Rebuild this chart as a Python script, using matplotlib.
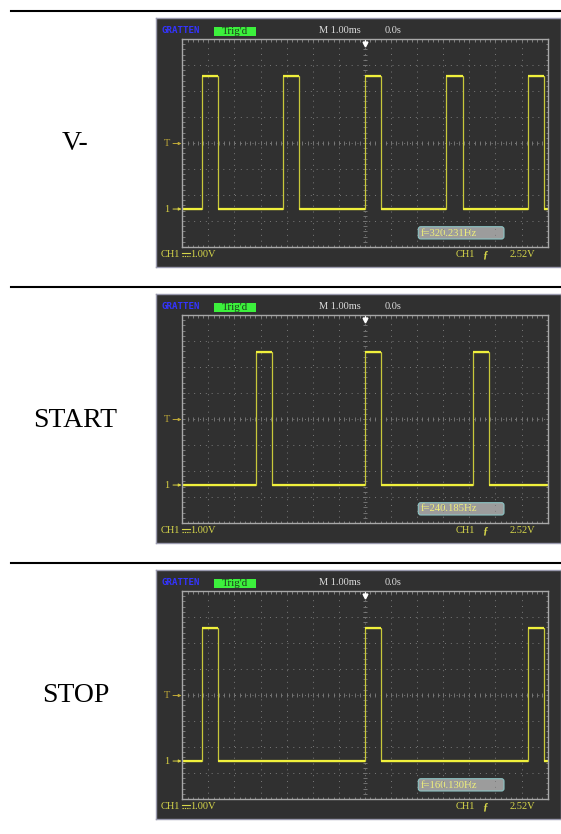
import numpy as np
import matplotlib
matplotlib.use("Agg")
import matplotlib.pyplot as plt
from matplotlib.patches import Rectangle, FancyBboxPatch
from matplotlib.lines import Line2D

# ---------------- data ----------------
row_labels = ["V-", "START", "STOP"]
freq_labels = ["f=320.231Hz", "f=240.185Hz", "f=160.130Hz"]

# rising / falling edge times in ms (trigger at 0 ms)
vminus_rise = [-6.26, -3.14, 0.0, 3.12, 6.24]
vminus_fall = [-5.63, -2.51, 0.63, 3.75, 6.87]
start_rise = [-4.17, 0.0, 4.15]
start_fall = [-3.56, 0.62, 4.77]
stop_rise = [-6.25, 0.0, 6.24]
stop_fall = [-5.65, 0.62, 6.86]

low_volts = 0.0
high_volts = 5.1
volts_per_div = 1.00
ms_per_div = 1.00
trig_volts = 2.52
ground_div = -2.54

timebase_label = "M 1.00ms"
delay_label = "0.0s"
ch_name = "CH1"
ch_scale_label = "1.00V"
trig_src = "CH1"
trig_level_label = "2.52V"

# ---------------- layout ----------------
W, H = 561, 834
fig = plt.figure(figsize=(W / 100, H / 100), dpi=100)
fig.patch.set_facecolor("white")


def px_rect(x0, y0, w, h):
    return [x0 / W, 1 - (y0 + h) / H, w / W, h / H]


row_tops = [18, 294, 570]
sep_ys = [11, 287, 563]
shot_x0, shot_w, shot_h = 156, 405, 249
grid_rx0, grid_ry0, grid_w, grid_h = 26.3, 21, 365.4, 208
serif = ["Liberation Serif", "DejaVu Serif"]
yellow_txt = "#d6d64a"

rises = [vminus_rise, start_rise, stop_rise]
falls = [vminus_fall, start_fall, stop_fall]

for sy in sep_ys:
    fig.add_artist(Line2D([11 / W, 1.0], [1 - sy / H] * 2, color="black", lw=1.5))

for i in range(3):
    top = row_tops[i]
    # row label
    fig.text(75.5 / W, 1 - (top + 132.5) / H, row_labels[i], ha="center",
             va="baseline", family=serif, fontsize=20, color="black")

    # screenshot background
    ax_s = fig.add_axes(px_rect(shot_x0, top, shot_w, shot_h))
    ax_s.set_xlim(0, shot_w)
    ax_s.set_ylim(shot_h, 0)
    ax_s.set_facecolor("#303030")
    ax_s.set_xticks([])
    ax_s.set_yticks([])
    for sp in ax_s.spines.values():
        sp.set_color("#9a9aae")
        sp.set_linewidth(1.0)

    # header
    ax_s.text(5, 12.5, "GRATTEN", family="DejaVu Sans Mono", weight="bold",
              fontsize=6.6, color="#3434ff", ha="left", va="center")
    ax_s.add_patch(Rectangle((57.7, 9.4), 42, 8.6, facecolor="#3cf03c",
                             edgecolor="none"))
    ax_s.text(78.7, 13.4, "Trig'd", family=serif, fontsize=7.8, color="#1c3c1c",
              ha="center", va="center")
    ax_s.text(163, 12.8, timebase_label, family=serif, fontsize=7.5,
              color="#dcdcdc", ha="left", va="center")
    ax_s.text(229, 12.8, delay_label, family=serif, fontsize=7.5,
              color="#dcdcdc", ha="left", va="center")

    # footer: CH1 [DC symbol] 1.00V  (DC symbol drawn as a shape)
    ax_s.text(5, 236.5, ch_name, family=serif, fontsize=7.5,
              color=yellow_txt, ha="left", va="center")
    ax_s.plot([25.5, 33.5], [235.2, 235.2], color=yellow_txt, lw=0.8)
    ax_s.plot([25.5, 33.5], [237.6, 237.6], color=yellow_txt, lw=0.8,
              ls=(0, (1.2, 0.9)))
    ax_s.text(34, 236.5, ch_scale_label, family=serif, fontsize=7.5,
              color=yellow_txt, ha="left", va="center")
    ax_s.text(300, 236.5, trig_src, family=serif, fontsize=7.5,
              color=yellow_txt, ha="left", va="center")
    ax_s.text(329, 236.5, "\u0192", family=serif, fontsize=8, weight="bold",
              color=yellow_txt, ha="center", va="center")
    ax_s.text(354, 236.5, trig_level_label, family=serif, fontsize=7.5,
              color=yellow_txt, ha="left", va="center")

    # frequency box
    ax_s.add_patch(FancyBboxPatch((262.3, 208.7), 85.7, 12.3,
                                  boxstyle="round,pad=0,rounding_size=2.5",
                                  facecolor="#9c9c9c", edgecolor="#8cc4c4", lw=0.8))
    ax_s.text(265, 215, freq_labels[i], family=serif, fontsize=7.7,
              color="#f0f07a", ha="left", va="center")

    # level markers (T and 1)
    def ypix(div):
        return grid_ry0 + (4 - div) * grid_h / 8

    t_div = ground_div + trig_volts / volts_per_div
    for txt, dv, col in [("T", t_div, "#c0aa38"), ("1", ground_div, "#dcd444")]:
        yy = ypix(dv)
        ax_s.text(10.5, yy, txt, family=serif, fontsize=7.5, color=col,
                  ha="center", va="center")
        ax_s.annotate("", xy=(25.5, yy), xytext=(17, yy),
                      arrowprops=dict(arrowstyle="-|>", color=col, lw=0.7,
                                      mutation_scale=4, shrinkA=0, shrinkB=0))

    # graticule axes
    ax_g = fig.add_axes(px_rect(shot_x0 + grid_rx0, top + grid_ry0, grid_w, grid_h))
    ax_g.set_facecolor("none")
    ax_g.set_xlim(-7, 7)
    ax_g.set_ylim(-4, 4)
    for sp in ax_g.spines.values():
        sp.set_color("#a8a8a8")
        sp.set_linewidth(1.0)
    ax_g.set_xticks(np.arange(-7, 7.001, 0.2))
    ax_g.set_yticks(np.arange(-4, 4.001, 0.2))
    ax_g.tick_params(direction="in", length=1.8, width=0.6, color="#8a8a8a",
                     top=True, right=True, labelbottom=False, labelleft=False)

    for gx in range(-6, 7):
        ax_g.plot([gx, gx], [-4, 4], ls=(0, (1, 5)), lw=0.7, color="#7a7a7a")
    for gy in range(-3, 4):
        ax_g.plot([-7, 7], [gy, gy], ls=(0, (1, 5)), lw=0.7, color="#7a7a7a")
    ax_g.plot(np.arange(-7, 7.001, 0.2), np.zeros(71), ls="none", marker="|",
              ms=2.2, mew=0.6, color="#7e7e7e")
    ax_g.plot(np.zeros(41), np.arange(-4, 4.001, 0.2), ls="none", marker="_",
              ms=2.2, mew=0.6, color="#7e7e7e")

    # trigger position marker
    ax_g.plot([0], [3.82], marker="v", ms=3.5, color="white", mec="white")
    ax_g.plot([0, 0], [3.82, 4.0], color="white", lw=0.8)

    # waveform
    lo = low_volts / volts_per_div + ground_div
    hi = high_volts / volts_per_div + ground_div
    t = [-7.0]
    v = [lo]
    for r, f in zip(rises[i], falls[i]):
        fr = min(f, 7.0)
        t += [r / ms_per_div, r / ms_per_div, fr / ms_per_div, fr / ms_per_div]
        v += [lo, hi, hi, lo]
    t.append(7.0)
    v.append(lo)
    ax_g.plot(t, v, color="#c8c83a", lw=0.9, solid_joinstyle="miter")
    # brighter horizontal segments
    for k in range(0, len(t) - 1):
        if v[k] == v[k + 1] and t[k] != t[k + 1]:
            ax_g.plot([t[k], t[k + 1]], [v[k], v[k + 1]], color="#f0f03c",
                      lw=1.6, solid_capstyle="butt")

fig.savefig("out.png", dpi=100, facecolor="white")
